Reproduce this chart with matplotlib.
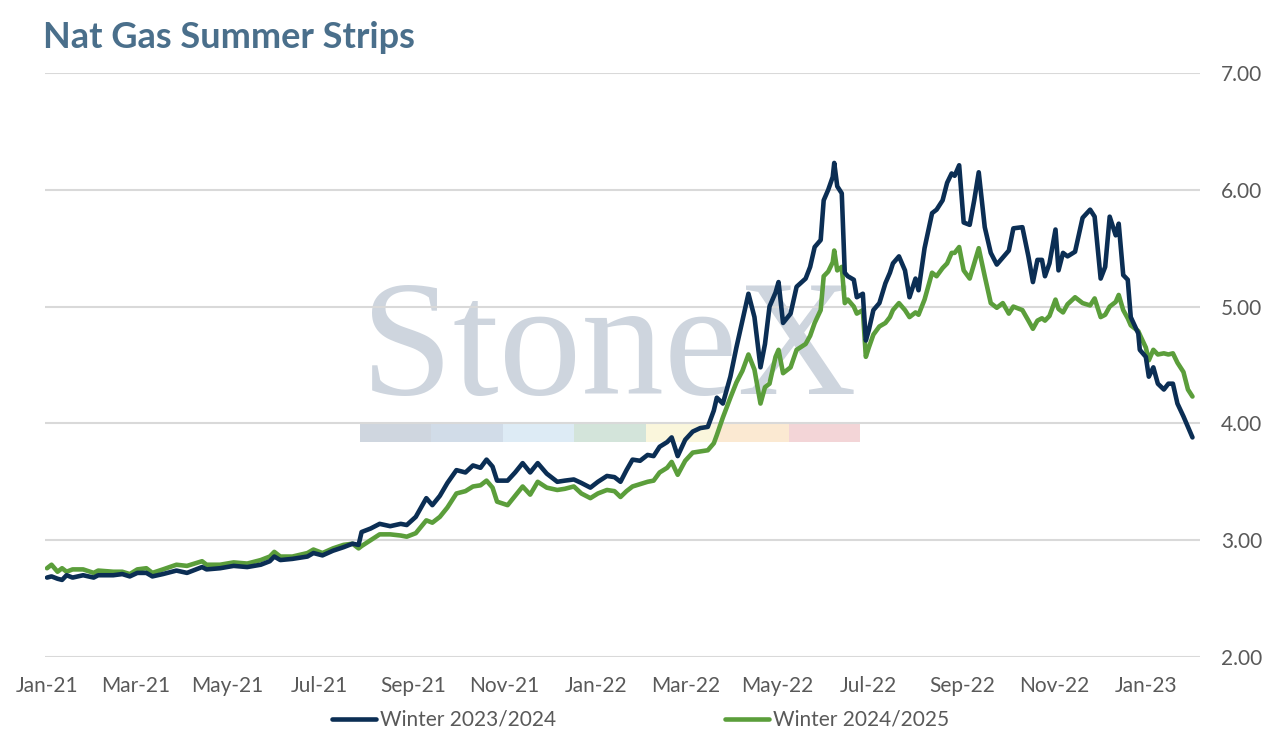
import matplotlib
matplotlib.use("Agg")
import matplotlib.pyplot as plt
import pandas as pd
from matplotlib.patches import Rectangle

plt.rcParams['font.family'] = ['Lato', 'DejaVu Sans']

dates = [
    "2021-01-01", "2021-01-04", "2021-01-08", "2021-01-11", "2021-01-14", "2021-01-18", "2021-01-25",
    "2021-02-01", "2021-02-04", "2021-02-14", "2021-02-20", "2021-02-25", "2021-03-02", "2021-03-08",
    "2021-03-12", "2021-03-19", "2021-03-28", "2021-04-04", "2021-04-14", "2021-04-17", "2021-04-26",
    "2021-05-05", "2021-05-14", "2021-05-23", "2021-05-29", "2021-06-01", "2021-06-05", "2021-06-13",
    "2021-06-23", "2021-06-27", "2021-07-03", "2021-07-10", "2021-07-17", "2021-07-23", "2021-07-27",
    "2021-07-29", "2021-08-04", "2021-08-10", "2021-08-17", "2021-08-24", "2021-08-28", "2021-09-03",
    "2021-09-10", "2021-09-14", "2021-09-19", "2021-09-24", "2021-09-30", "2021-10-06", "2021-10-11",
    "2021-10-16", "2021-10-20", "2021-10-24", "2021-10-27", "2021-11-03", "2021-11-08", "2021-11-13",
    "2021-11-18", "2021-11-23", "2021-11-29", "2021-12-06", "2021-12-11", "2021-12-17", "2021-12-22",
    "2021-12-28", "2022-01-02", "2022-01-08", "2022-01-13", "2022-01-17", "2022-01-21", "2022-01-25",
    "2022-01-30", "2022-02-04", "2022-02-08", "2022-02-12", "2022-02-17", "2022-02-20", "2022-02-24",
    "2022-03-01", "2022-03-06", "2022-03-11", "2022-03-16", "2022-03-20", "2022-03-22", "2022-03-26",
    "2022-03-31", "2022-04-04", "2022-04-08", "2022-04-12", "2022-04-16", "2022-04-20", "2022-04-23",
    "2022-04-26", "2022-04-30", "2022-05-02", "2022-05-05", "2022-05-10", "2022-05-14", "2022-05-20",
    "2022-05-23", "2022-05-26", "2022-05-30", "2022-06-01", "2022-06-04", "2022-06-07", "2022-06-08",
    "2022-06-10", "2022-06-13", "2022-06-15", "2022-06-17", "2022-06-21", "2022-06-23", "2022-06-27",
    "2022-06-29", "2022-07-01", "2022-07-04", "2022-07-08", "2022-07-12", "2022-07-15", "2022-07-17",
    "2022-07-21", "2022-07-25", "2022-07-28", "2022-08-01", "2022-08-03", "2022-08-07", "2022-08-12",
    "2022-08-15", "2022-08-19", "2022-08-22", "2022-08-25", "2022-08-27", "2022-08-30", "2022-09-02",
    "2022-09-06", "2022-09-09", "2022-09-12", "2022-09-16", "2022-09-20", "2022-09-24", "2022-09-28",
    "2022-10-02", "2022-10-05", "2022-10-11", "2022-10-15", "2022-10-18", "2022-10-21", "2022-10-24",
    "2022-10-26", "2022-10-29", "2022-11-02", "2022-11-04", "2022-11-07", "2022-11-10", "2022-11-15",
    "2022-11-20", "2022-11-25", "2022-11-28", "2022-12-02", "2022-12-05", "2022-12-08", "2022-12-12",
    "2022-12-14", "2022-12-17", "2022-12-20", "2022-12-22", "2022-12-27", "2022-12-28", "2023-01-01",
    "2023-01-03", "2023-01-06", "2023-01-09", "2023-01-13", "2023-01-16", "2023-01-19", "2023-01-22",
    "2023-01-26", "2023-01-29", "2023-02-01",
]

winter_2023_2024 = [
    2.68, 2.69, 2.67, 2.66, 2.70, 2.68, 2.70,
    2.68, 2.70, 2.70, 2.71, 2.69, 2.72, 2.72,
    2.69, 2.71, 2.74, 2.72, 2.77, 2.75, 2.76,
    2.78, 2.77, 2.79, 2.82, 2.86, 2.83, 2.84,
    2.86, 2.89, 2.87, 2.91, 2.94, 2.97, 2.96,
    3.07, 3.10, 3.14, 3.12, 3.14, 3.13, 3.20,
    3.36, 3.30, 3.38, 3.49, 3.60, 3.58, 3.64,
    3.62, 3.69, 3.63, 3.51, 3.51, 3.58, 3.66,
    3.58, 3.66, 3.57, 3.50, 3.51, 3.52, 3.49,
    3.45, 3.50, 3.55, 3.54, 3.50, 3.60, 3.69,
    3.68, 3.73, 3.72, 3.80, 3.84, 3.88, 3.72,
    3.86, 3.93, 3.96, 3.97, 4.11, 4.22, 4.17,
    4.40, 4.65, 4.88, 5.11, 4.91, 4.48, 4.68,
    5.00, 5.12, 5.21, 4.86, 4.94, 5.17, 5.24,
    5.34, 5.51, 5.57, 5.91, 6.00, 6.11, 6.23,
    6.03, 5.97, 5.29, 5.26, 5.23, 5.08, 5.11,
    4.71, 4.80, 4.97, 5.03, 5.20, 5.29, 5.37,
    5.43, 5.31, 5.08, 5.24, 5.14, 5.50, 5.80,
    5.83, 5.91, 6.06, 6.14, 6.12, 6.21, 5.72,
    5.70, 5.91, 6.15, 5.68, 5.46, 5.36, 5.42,
    5.48, 5.67, 5.68, 5.43, 5.21, 5.40, 5.40,
    5.26, 5.37, 5.66, 5.31, 5.46, 5.43, 5.47,
    5.76, 5.83, 5.77, 5.24, 5.34, 5.77, 5.61,
    5.71, 5.27, 5.23, 4.91, 4.77, 4.63, 4.57,
    4.40, 4.48, 4.34, 4.29, 4.34, 4.34, 4.17,
    4.06, 3.97, 3.88,
]

winter_2024_2025 = [
    2.76, 2.79, 2.73, 2.76, 2.73, 2.75, 2.75,
    2.72, 2.74, 2.73, 2.73, 2.71, 2.75, 2.76,
    2.72, 2.75, 2.79, 2.78, 2.82, 2.79, 2.79,
    2.81, 2.80, 2.83, 2.86, 2.90, 2.86, 2.86,
    2.89, 2.92, 2.89, 2.93, 2.96, 2.97, 2.93,
    2.95, 3.00, 3.05, 3.05, 3.04, 3.03, 3.06,
    3.17, 3.15, 3.20, 3.28, 3.40, 3.42, 3.46,
    3.47, 3.51, 3.45, 3.33, 3.30, 3.38, 3.46,
    3.39, 3.50, 3.45, 3.43, 3.44, 3.46, 3.40,
    3.36, 3.40, 3.43, 3.42, 3.37, 3.42, 3.46,
    3.48, 3.50, 3.51, 3.58, 3.62, 3.67, 3.56,
    3.68, 3.75, 3.76, 3.77, 3.83, 3.90, 4.05,
    4.22, 4.35, 4.45, 4.59, 4.46, 4.17, 4.31,
    4.34, 4.57, 4.63, 4.43, 4.48, 4.63, 4.68,
    4.75, 4.86, 4.97, 5.26, 5.30, 5.38, 5.48,
    5.31, 5.34, 5.03, 5.06, 5.00, 4.94, 4.97,
    4.57, 4.65, 4.76, 4.83, 4.86, 4.91, 4.97,
    5.03, 4.97, 4.91, 4.95, 4.93, 5.06, 5.29,
    5.26, 5.33, 5.37, 5.46, 5.46, 5.51, 5.31,
    5.24, 5.37, 5.50, 5.26, 5.03, 4.99, 5.03,
    4.94, 5.00, 4.97, 4.88, 4.81, 4.88, 4.90,
    4.88, 4.92, 5.06, 4.98, 4.95, 5.02, 5.08,
    5.03, 5.01, 5.07, 4.91, 4.93, 5.00, 5.04,
    5.10, 4.97, 4.90, 4.84, 4.79, 4.76, 4.65,
    4.54, 4.63, 4.59, 4.60, 4.59, 4.60, 4.52,
    4.44, 4.29, 4.23,
]

series_labels = ["Winter 2023/2024", "Winter 2024/2025"]
series_colors = ["#0B2E54", "#5B9E3B"]
y_ticks = [2, 3, 4, 5, 6, 7]
x_tick_dates = pd.date_range("2021-01-01", "2023-01-01", freq="2MS")
title_text = "Nat Gas Summer Strips"
watermark_text = "StoneX"
strip_colors = ["#CFD6DF", "#D1DCE8", "#DDEBF5", "#D3E4DA", "#FAF6DC", "#FBE9D2", "#F3D5D7"]

W, H = 1274, 744
fig = plt.figure(figsize=(W / 100, H / 100), dpi=100)
ax = fig.add_axes([45 / W, (H - 657) / H, (1200 - 45) / W, (657 - 73) / H])
ax.patch.set_alpha(0)

x = pd.to_datetime(dates)
l1, = ax.plot(x, winter_2023_2024, color=series_colors[0], lw=3.3,
              solid_joinstyle='round', solid_capstyle='round', zorder=3)
l2, = ax.plot(x, winter_2024_2025, color=series_colors[1], lw=3.3,
              solid_joinstyle='round', solid_capstyle='round', zorder=2)

ax.set_ylim(2, 7)
ax.set_xlim(pd.Timestamp("2020-12-30 16:00"), pd.Timestamp("2023-02-06"))
ax.set_yticks(y_ticks)
ax.set_yticklabels([f"{v:.2f}" for v in y_ticks])
ax.yaxis.tick_right()
ax.set_xticks(x_tick_dates)
ax.set_xticklabels([d.strftime("%b-%y") for d in x_tick_dates])
ax.tick_params(axis='both', length=0, labelsize=15, colors="#595959")
ax.tick_params(axis='x', pad=14)
ax.tick_params(axis='y', pad=15)
ax.grid(axis='y', color="#D9D9D9", lw=1.5)
ax.grid(axis='x', visible=False)
ax.set_axisbelow(True)
for s in ax.spines.values():
    s.set_visible(False)

# watermark
fig.text(361 / W, 1 - 394 / H, watermark_text, family=['Liberation Serif', 'DejaVu Serif'],
         fontsize=119, color="#CED5DE", ha='left', va='baseline', zorder=-2)
sx0, sx1 = 360, 860
sw = (sx1 - sx0) / len(strip_colors)
for i, c in enumerate(strip_colors):
    fig.add_artist(Rectangle(((sx0 + i * sw) / W, 1 - 442 / H), sw / W, 18 / H,
                             transform=fig.transFigure, facecolor=c, edgecolor='none', zorder=-2))

fig.text(43 / W, 1 - 48 / H, title_text, fontsize=26, fontweight='bold',
         color="#4A6F8B", ha='left', va='baseline')

fig.legend([l1, l2], series_labels, loc='center', bbox_to_anchor=(0.503, 1 - 720 / H),
           ncol=2, frameon=False, fontsize=15, handlelength=2.1, handletextpad=0.2,
           columnspacing=8.1, labelcolor="#595959", borderpad=0)

fig.savefig("out.png", dpi=100)
